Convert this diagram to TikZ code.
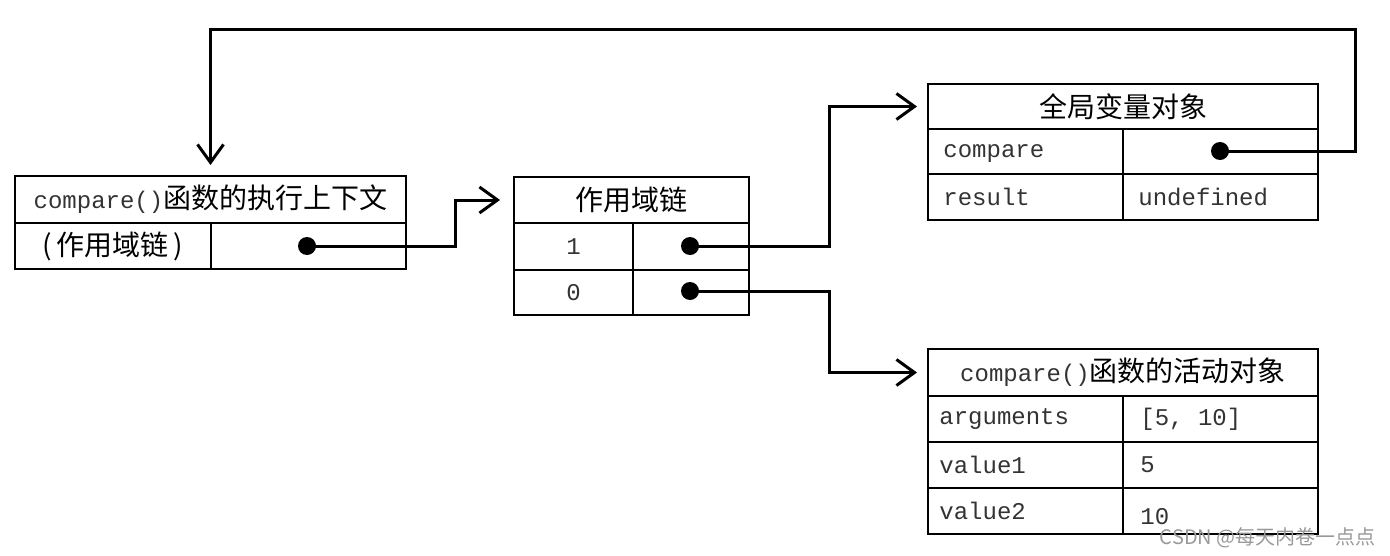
\documentclass[tikz,border=0pt]{standalone}
\usepackage{fontspec}
\setmonofont{Liberation Mono}
\newfontfamily\cjk{Noto Sans CJK SC}
\usetikzlibrary{arrows.meta}
\begin{document}
\begin{tikzpicture}[x=0.5pt,y=-0.5pt,
  cell/.style={draw, line width=1pt, inner sep=0pt, anchor=north west},
  mono/.style={font=\fontsize{12}{14}\selectfont\ttfamily, inner sep=0pt, text=black!80},
  cjkt/.style={font=\fontsize{14}{16}\selectfont\cjk, inner sep=0pt},
  dot/.style={circle, fill, inner sep=0pt, minimum size=9pt},
  conn/.style={line width=1.5pt, -{Straight Barb[length=9pt,width=13pt]}},
]
\useasboundingbox (0,0) rectangle (1390,556);

% execution context
\node[cell, minimum width=195.5pt, minimum height=23.5pt] (ec) at (14,175)
  {{\fontsize{12}{14}\selectfont\ttfamily\color{black!80}compare()}{\fontsize{14}{16}\selectfont\cjk 函数的执行上下文}};
\node[cell, minimum width=98pt, minimum height=23pt, cjkt] (ec1) at (14,222) {(\,作用域链\,)};
\node[cell, minimum width=97.5pt, minimum height=23pt] (ec2) at (210,222) {};

% scope chain
\node[cell, minimum width=117.5pt, minimum height=23pt, cjkt] (sc) at (513,176) {作用域链};
\node[cell, minimum width=59.5pt, minimum height=23.5pt, mono] (sc1) at (513,222) {1};
\node[cell, minimum width=58pt, minimum height=23.5pt] (sc2) at (632,222) {};
\node[cell, minimum width=59.5pt, minimum height=22.5pt, mono] (sc3) at (513,269) {0};
\node[cell, minimum width=58pt, minimum height=22.5pt] (sc4) at (632,269) {};

% global variable object
\node[cell, minimum width=195pt, minimum height=22.5pt, cjkt] (gv) at (927,83) {全局变量对象};
\node[cell, minimum width=97.5pt, minimum height=22.5pt] (gv1) at (927,128) {};
\node[cell, minimum width=97.5pt, minimum height=22.5pt] (gv2) at (1122,128) {};
\node[cell, minimum width=97.5pt, minimum height=23pt] (gv3) at (927,173) {};
\node[cell, minimum width=97.5pt, minimum height=23pt] (gv4) at (1122,173) {};
\node[mono, anchor=west] (gvl1) at ([xshift=8pt,yshift=-1pt]gv1.west) {compare};
\node[mono, anchor=west] (gvl3) at ([xshift=8pt]gv3.west) {result};
\node[mono, anchor=west] (gvl4) at ([xshift=8pt]gv4.west) {undefined};

% activation object
\node[cell, minimum width=195pt, minimum height=23.5pt] (ao) at (927,348)
  {{\fontsize{12}{14}\selectfont\ttfamily\color{black!80}compare()}{\fontsize{14}{16}\selectfont\cjk 函数的活动对象}};
\node[cell, minimum width=97.5pt, minimum height=23pt] (ao1) at (927,395) {};
\node[cell, minimum width=97.5pt, minimum height=23pt] (ao2) at (1122,395) {};
\node[cell, minimum width=97.5pt, minimum height=23pt] (ao3) at (927,441) {};
\node[cell, minimum width=97.5pt, minimum height=23pt] (ao4) at (1122,441) {};
\node[cell, minimum width=97.5pt, minimum height=23pt] (ao5) at (927,487) {};
\node[cell, minimum width=97.5pt, minimum height=23pt] (ao6) at (1122,487) {};
\node[mono, anchor=west] (aol1) at ([xshift=6pt]ao1.west) {arguments};
\node[mono, anchor=west] (aol2) at ([xshift=9pt]ao2.west) {[5, 10]};
\node[mono, anchor=west] (aol3) at ([xshift=6pt]ao3.west) {value1};
\node[mono, anchor=west] (aol4) at ([xshift=9pt]ao4.west) {5};
\node[mono, anchor=west] (aol5) at ([xshift=6pt]ao5.west) {value2};
\node[mono, anchor=west] (aol6) at ([xshift=9pt,yshift=-3pt]ao6.west) {10};

% dots
\coordinate (d1) at (307,246);
\coordinate (d2) at (690,246);
\coordinate (d3) at (690,291);
\coordinate (d4) at (1220,151);
\coordinate (loop) at (1355,30);

% connectors
\draw[conn, shorten >=6.5pt] (d1) -- ++(148,0) |- (sc.west);
\draw[conn, shorten >=5pt] (d2) -- ++(139,0) |- (gv.west);
\draw[conn, shorten >=5pt] (d3) -- ++(139,0) |- (ao.west);
\draw[conn, shorten >=5pt] (d4) -| (loop) -| (ec.north);

\node[dot] (p1) at (d1) {};
\node[dot] (p2) at (d2) {};
\node[dot] (p3) at (d3) {};
\node[dot] (p4) at (d4) {};

% watermark
\node[anchor=east, inner sep=0pt, text=black!40, font=\fontsize{10}{12}\selectfont\cjk] (wm) at (1376,538) {CSDN @每天内卷一点点};
\end{tikzpicture}
\end{document}
